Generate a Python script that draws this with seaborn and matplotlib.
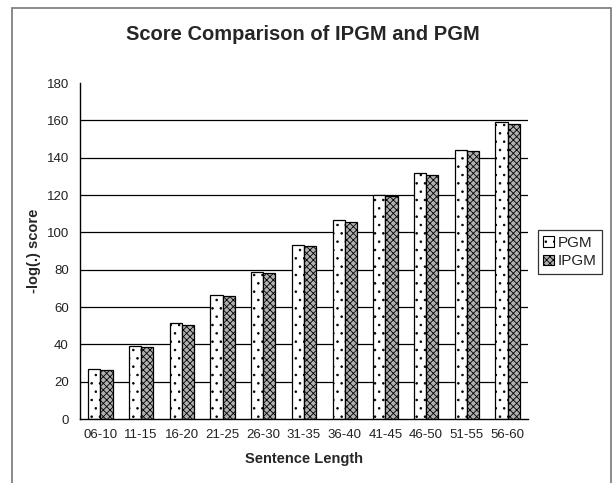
import matplotlib
matplotlib.use("Agg")
import matplotlib.pyplot as plt
import matplotlib.patches as mpatches
import seaborn as sns
import pandas as pd

categories = ["06-10", "11-15", "16-20", "21-25", "26-30", "31-35",
              "36-40", "41-45", "46-50", "51-55", "56-60"]
pgm = [26.6, 38.9, 51.3, 66.2, 78.9, 93.4, 106.5, 119.8, 131.6, 144.0, 159.2]
ipgm = [26.4, 38.7, 50.6, 65.7, 78.4, 92.9, 105.6, 119.3, 130.9, 143.5, 158.3]
series = ["PGM", "IPGM"]
yticks = [0, 20, 40, 60, 80, 100, 120, 140, 160, 180]

df = pd.DataFrame({
    "Sentence Length": categories * 2,
    "score": pgm + ipgm,
    "Method": [series[0]] * len(categories) + [series[1]] * len(categories),
})

sns.set_style("white")
plt.rcParams["font.family"] = ["Liberation Sans", "DejaVu Sans"]
plt.rcParams["hatch.linewidth"] = 0.6

W, H = 616, 483
fig = plt.figure(figsize=(W / 100, H / 100), dpi=100)
ax = fig.add_axes([80 / W, 1 - 419 / H, (528 - 80) / W, (419 - 83) / H])

sns.barplot(data=df, x="Sentence Length", y="score", hue="Method",
            order=categories, hue_order=series, width=0.6, gap=0,
            ax=ax, legend=False)

n = len(categories)
styles = [dict(facecolor="white", hatch="..", edgecolor="black"),
          dict(facecolor="#b0b0b0", hatch="xxxxx", edgecolor="black")]
for i, p in enumerate(ax.patches[:2 * n]):
    s = styles[i // n]
    p.set_facecolor(s["facecolor"])
    p.set_hatch(s["hatch"])
    p.set_edgecolor(s["edgecolor"])
    p.set_linewidth(0.9)

ax.set_ylim(0, 180)
ax.set_xlim(-0.5, n - 0.5)
ax.set_yticks(yticks)
ax.set_yticklabels([str(t) for t in yticks], fontsize=9.5, color="#222222")
ax.set_xticks(range(n))
ax.set_xticklabels(categories, fontsize=9.5, color="#222222")
ax.set_xticks([i - 0.5 for i in range(n + 1)], minor=True)
ax.tick_params(axis="x", which="major", length=0, pad=7)
ax.tick_params(axis="x", which="minor", length=5, width=1, color="black", direction="out")
ax.tick_params(axis="y", which="major", length=5, width=1, color="black", direction="out", pad=3)

for t in yticks[1:-1]:
    ax.axhline(t, color="black", lw=0.9, zorder=0)

for side in ["top", "right"]:
    ax.spines[side].set_visible(False)
for side in ["left", "bottom"]:
    ax.spines[side].set_visible(True)
    ax.spines[side].set_color("black")
    ax.spines[side].set_linewidth(1)

ax.set_xlabel("Sentence Length", fontsize=10.5, fontweight="bold", labelpad=8)
ax.set_ylabel("-log(.) score", fontsize=10.5, fontweight="bold", labelpad=4)

fig.text(303 / W, 1 - 34 / H, "Score Comparison of IPGM and PGM",
         ha="center", va="center", fontsize=14.5, fontweight="bold")

handles = [mpatches.Patch(facecolor=styles[k]["facecolor"], hatch=styles[k]["hatch"],
                          edgecolor="black", linewidth=0.8, label=series[k])
           for k in range(2)]
leg = fig.legend(handles=handles, loc="center left",
                 bbox_to_anchor=(538 / W, 1 - 252 / H), fontsize=11,
                 handlelength=0.7, handleheight=0.7, handletextpad=0.25,
                 borderpad=0.35, labelspacing=0.3, fancybox=False, frameon=True,
                 borderaxespad=0)
for t in leg.get_texts():
    t.set_color("#222222")
leg.get_frame().set_edgecolor("black")
leg.get_frame().set_linewidth(0.9)

border = mpatches.Rectangle((12 / W, 1 - 486 / H), (611 - 12) / W, (486 - 8) / H,
                            transform=fig.transFigure, fill=False,
                            edgecolor="#777777", lw=1.2, clip_on=False)
fig.patches.append(border)

fig.savefig("out.png", dpi=100)
